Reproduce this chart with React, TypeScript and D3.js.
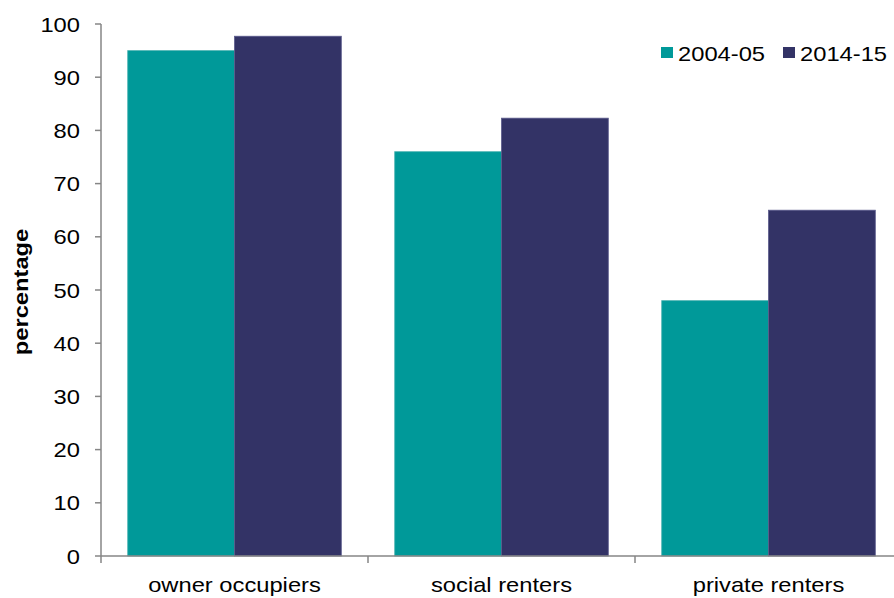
import React from "react";
import * as d3 from "d3";

const categories = ["owner occupiers", "social renters", "private renters"];
const seriesNames = ["2004-05", "2014-15"];
const values2004 = [95, 76, 48];
const values2014 = [97.7, 82.3, 65];
const yTicks = [0, 10, 20, 30, 40, 50, 60, 70, 80, 90, 100];
const colors = ["#009999", "#333366"];
const strokes = ["#4fb5b3", "#5b5b8c"];

const SX = 1.13;
const FS = 21;

function T(props: { x: number; y: number; anchor?: string; children: React.ReactNode; dy?: string; bold?: boolean; rotate?: number }) {
  const { x, y, anchor = "start", children, dy, bold, rotate = 0 } = props;
  return (
    <text
      transform={`translate(${x},${y}) rotate(${rotate}) scale(${SX},1)`}
      textAnchor={anchor}
      dy={dy}
      fontSize={FS}
      fontWeight={bold ? "bold" : "normal"}
      fill="#000"
    >
      {children}
    </text>
  );
}

export default function App() {
  const W = 894, H = 598;
  const x0 = 101, x1 = 902;
  const yTop = 24, yBot = 556;
  const x = d3.scaleBand<string>().domain(categories).range([x0, x1]).paddingInner(0).paddingOuter(0);
  const y = d3.scaleLinear().domain([0, 100]).range([yBot, yTop]);
  const bw = x.bandwidth();
  const pad = bw * 0.1;
  const barW = (bw - 2 * pad) / 2;
  const series = [values2004, values2014];
  const font = "Liberation Sans, Arial, sans-serif";
  return (
    <svg width={W} height={H} style={{ position: "absolute", left: 0, top: 0, background: "#fff" }} fontFamily={font}>
      {series.map((vals, si) =>
        categories.map((c, ci) => (
          <rect
            key={`${si}-${ci}`}
            x={(x(c) as number) + pad + si * barW}
            y={y(vals[ci])}
            width={barW}
            height={yBot - y(vals[ci])}
            fill={colors[si]}
            stroke={strokes[si]}
            strokeWidth={0.8}
          />
        ))
      )}
      {/* y axis */}
      <line x1={x0} x2={x0} y1={yTop} y2={yBot} stroke="#868686" strokeWidth={1.5} />
      {yTicks.map((t) => (
        <g key={t}>
          <line x1={x0 - 6} x2={x0} y1={y(t)} y2={y(t)} stroke="#868686" strokeWidth={1.5} />
          <T x={x0 - 21} y={y(t)} dy="0.36em" anchor="end">
            {t}
          </T>
        </g>
      ))}
      {/* x axis */}
      <line x1={x0} x2={x1} y1={yBot} y2={yBot} stroke="#868686" strokeWidth={1.5} />
      {categories.map((c) => (
        <g key={c}>
          <line x1={x(c) as number} x2={x(c) as number} y1={yBot} y2={yBot + 7} stroke="#868686" strokeWidth={1.5} />
          <T x={(x(c) as number) + bw / 2} y={592} anchor="middle">
            {c}
          </T>
        </g>
      ))}
      <T x={28} y={292} anchor="middle" bold rotate={-90}>
        percentage
      </T>
      {/* legend */}
      {seriesNames.map((s, i) => {
        const lx = [661, 783][i];
        return (
          <g key={s}>
            <rect x={lx} y={47} width={12} height={11} fill={colors[i]} />
            <T x={lx + 17} y={61}>
              {s}
            </T>
          </g>
        );
      })}
    </svg>
  );
}
